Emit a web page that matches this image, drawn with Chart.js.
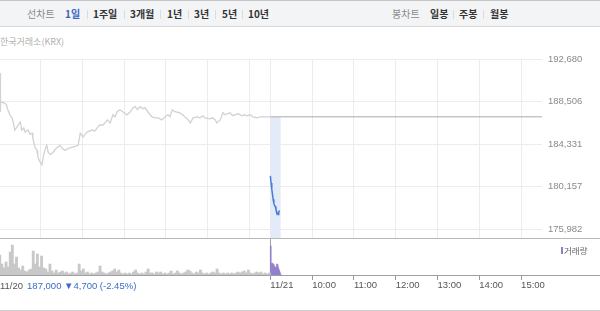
<html>
<head>
<script src="https://cdn.jsdelivr.net/npm/chart.js@4.4.0/dist/chart.umd.min.js"></script>
<style>
  html, body { margin: 0; width: 600px; height: 311px; overflow: hidden; background: #fff; }
  body { position: relative; font-family: "Noto Sans CJK KR", "Noto Sans", sans-serif; }
  .bar { position: absolute; left: 0; top: 0; width: 600px; height: 27px; box-sizing: border-box;
         background: #f3f4f6; border-top: 1px solid #c4c4c4; border-bottom: 1px solid #d8d8d8; }
  .bar span { position: absolute; top: 7px; font-size: 10px; line-height: 12px; font-weight: bold; color: #333; white-space: nowrap; }
  .bar span.lbl { font-weight: normal; color: #8a8a8a; }
  .bar span.on { color: #3d63c2; }
  .bar i { position: absolute; top: 9px; width: 1px; height: 9px; background: #dcdcdc; }
  .src { position: absolute; left: 0; top: 36px; font-size: 9px; line-height: 12px; color: #b0b0b0; }
  .hline { position: absolute; left: 0; width: 600px; height: 1px; }
  .cv { position: absolute; left: 0; }
  .legend { position: absolute; left: 564px; top: 244px; font-size: 8.5px; line-height: 12px; color: #666; }
  .legend b { position: absolute; left: -3px; top: 3px; width: 2px; height: 7px; background: #8f7dc8; }
  .foot { position: absolute; left: 0; top: 280px; font-family: "Liberation Sans", Arial, sans-serif; font-size: 9.5px; line-height: 12px; color: #555; white-space: nowrap; }
  .foot span { color: #3a6cc9; margin-left: 4px; }
</style>
</head>
<body>
  <div class="bar">
    <span class="lbl" style="left:27px">선차트</span>
    <span class="on" style="left:65px">1일</span><i style="left:87px"></i>
    <span style="left:93px">1주일</span><i style="left:124px"></i>
    <span style="left:130px">3개월</span><i style="left:160px"></i>
    <span style="left:167px">1년</span><i style="left:188px"></i>
    <span style="left:194px">3년</span><i style="left:215px"></i>
    <span style="left:222px">5년</span><i style="left:242px"></i>
    <span style="left:248px">10년</span>
    <span class="lbl" style="left:392px">봉차트</span>
    <span style="left:430px">일봉</span><i style="left:453px"></i>
    <span style="left:459px">주봉</span><i style="left:483px"></i>
    <span style="left:490px">월봉</span>
  </div>
  <div class="src">한국거래소(KRX)</div>

  <div class="cv" style="top:45px"><canvas id="price" width="600" height="193"></canvas></div>
  <div class="cv" style="top:238px"><canvas id="volume" width="600" height="73"></canvas></div>

  <div class="hline" style="top:238px; background:#b8b8b8"></div>
  <div class="hline" style="top:275px; background:#a0a0a0"></div>
  <div class="hline" style="top:310px; background:#d0d0d0"></div>

  <div class="legend"><b></b>거래량</div>
  <div class="foot">11/20<span>187,000 ▼4,700 (-2.45%)</span></div>

<script>
// 11/20 session: minutes after 09:00 and price
const prevMinutes = [0, 1, 2, 3, 6, 9, 11, 13, 16, 19, 21, 23, 26, 28, 31, 33, 36, 38, 42, 45, 48, 49,
  52, 55, 56, 59, 62, 64, 67, 69, 71, 74, 78, 81, 84, 88, 91, 95, 100, 105, 110, 114, 117,
  121, 124, 127, 134, 138, 141, 145, 150, 156, 160, 164, 167, 170, 174, 178, 184, 189, 193, 196, 199, 203, 207, 210, 214,
  220, 224, 229, 234, 239, 243, 246, 249, 253, 260, 264, 267, 272, 275, 279, 285, 289, 293, 296, 303, 307, 311, 313, 318,
  322, 325, 328, 332, 336, 339, 344, 349, 353, 356, 361, 365, 371, 375, 382, 390];
const prevPrices = [190200, 191300, 187500, 188500, 188400, 188300, 188200, 187700, 187200, 186900,
  186400, 185700, 186000, 186200, 186500, 185700, 185900, 185500, 185700, 185300, 185400, 184900,
  184000, 183700, 183100, 182600, 182300, 183100, 183900, 184200, 183500, 183300,
  183500, 183800, 184000, 184200, 183900, 183700, 183900, 184000, 184100, 184200, 185400,
  185000, 185300, 185500, 185700, 185600, 185900, 186200, 186200, 186700, 186400, 187200, 187000, 187500,
  187700, 187500, 187200, 187500, 187900, 188000, 187700, 188000, 187800, 187900, 187500,
  187000, 186900, 186900, 186700, 187000, 187200, 187000, 187700, 187500, 187400, 187200, 187000,
  186700, 186400, 186900, 187000, 186900, 187100, 186900, 186800, 186900, 186700, 186400, 186700,
  187400, 187200, 187300, 187400, 187100, 187200, 187300, 187100, 187200, 187100, 187200, 187000, 186900,
  187000, 187000, 187000];

// 11/21 session so far
const todayMinutes = [0, 1, 2, 3, 4, 5, 6, 7, 8, 9, 10, 11, 12, 13];
const todayPrices = [181200, 180500, 179900, 179400, 178900, 178500, 178300, 178200, 177900, 177700,
  177500, 177400, 177600, 177800];

const prevClose = 187000;
const nowMinute = 15;
const priceTicks = [192680, 188506, 184331, 180157, 175982];
const timeLabels = ['11/21', '10:00', '11:00', '12:00', '13:00', '14:00', '15:00'];
// grid lines, in hours from 11/21 09:00 (the 11/20 session sits to the left)
const gridHours = [-5.5, -4.5, -3.5, -2.5, -1.5, -0.5, 0, 1, 2, 3, 4, 5, 6];

// volume: 11/20 in 3-minute bins, 11/21 per minute
const prevVolumes = [21000, 12000, 8000, 14000, 9000, 24000, 31000, 12000, 19000, 8000,
  6000, 10000, 5000, 4000, 6000, 7000, 25000, 12000, 22000, 9000,
  20000, 8000, 7000, 4000, 12000, 5000, 3000, 6000, 3000, 4000,
  5000, 3000, 4000, 2000, 3000, 4000, 2000, 3000, 12000, 5000,
  7000, 3000, 4000, 2000, 3000, 2000, 3000, 4000, 10000, 4000,
  3000, 2000, 3000, 4000, 5000, 7000, 4000, 6000, 3000, 2000,
  3000, 2000, 3000, 2000, 4000, 6000, 3000, 2000, 3000, 2000,
  4000, 7000, 3000, 3000, 2000, 4000, 3000, 4000, 2000, 3000,
  2000, 3000, 5000, 2000, 3000, 5000, 3000, 2000, 3000, 4000,
  6000, 5000, 3000, 2000, 4000, 3000, 6000, 3000, 2000, 3000,
  2000, 3000, 4000, 3000, 7000, 3000, 2000, 3000, 2000, 3000,
  2000, 3000, 2000, 3000, 4000, 3000, 4000, 5000, 3000, 6000,
  3000, 2000, 3000, 4000, 3000, 4000, 2000, 3000, 2000, 3000];
const todayVolumes = [30000, 12000, 13000, 11000, 12000, 10000, 9000, 8000, 9000, 12000,
  11000, 8000, 6000, 4000, 2000];

const prevX = m => (m - 390) / 60;
const todayX = m => m / 60;

Chart.defaults.font.family = "'Liberation Sans', Arial, sans-serif";
Chart.defaults.animation = false;

new Chart(document.getElementById('price'), {
  type: 'line',
  data: {
    datasets: [
      {
        data: todayMinutes.map((m, i) => ({ x: todayX(m), y: todayPrices[i] })),
        borderColor: '#4a7bd3', borderWidth: 1.5, order: 0
      },
      {
        data: prevMinutes.map((m, i) => ({ x: prevX(m), y: prevPrices[i] })),
        borderColor: '#d2d2d2', borderWidth: 1.3, order: 1
      },
      {
        data: [{ x: 0, y: prevClose }, { x: 6.5, y: prevClose }],
        borderColor: '#ababab', borderWidth: 1, order: 2
      },
      {
        data: [{ x: 0, y: prevClose }, { x: todayX(nowMinute), y: prevClose }],
        borderWidth: 0, backgroundColor: '#e3ebf8', fill: 'start', order: 3
      }
    ]
  },
  options: {
    responsive: false,
    devicePixelRatio: 1,
    layout: { padding: { top: 14, left: 0, right: 0, bottom: 0 } },
    elements: { point: { radius: 0 }, line: { tension: 0 } },
    plugins: { legend: { display: false }, tooltip: { enabled: false } },
    scales: {
      x: {
        type: 'linear', min: -6.47, max: 6.5,
        ticks: { display: false },
        grid: { color: '#ececec', drawTicks: false },
        border: { display: false },
        afterBuildTicks: s => { s.ticks = gridHours.map(v => ({ value: v })); }
      },
      y: {
        position: 'right', min: 175099, max: 192680,
        ticks: {
          callback: v => v.toLocaleString('en-US'),
          color: '#8a8a8a', font: { size: 9.5 }, padding: 6
        },
        grid: { color: '#ececec', drawTicks: false },
        border: { display: false },
        afterBuildTicks: s => { s.ticks = priceTicks.map(v => ({ value: v })); },
        afterFit: s => { s.width = 58; s.paddingTop = 0; s.paddingBottom = 0; }
      }
    }
  }
});

new Chart(document.getElementById('volume'), {
  type: 'bar',
  data: {
    datasets: [
      {
        data: prevVolumes.map((v, i) => ({ x: prevX(i * 3 + 1.5), y: v })),
        backgroundColor: '#c8c8c8', barThickness: 2.2, grouped: false
      },
      {
        data: todayVolumes.map((v, i) => ({ x: todayX(i + 0.5), y: v })),
        backgroundColor: '#9481cc', barThickness: 1, grouped: false
      }
    ]
  },
  options: {
    responsive: false,
    devicePixelRatio: 1,
    layout: { padding: { top: 0, left: 0, right: 58, bottom: 19 } },
    plugins: { legend: { display: false }, tooltip: { enabled: false } },
    scales: {
      x: {
        type: 'linear', min: -6.47, max: 6.5, offset: false,
        ticks: {
          callback: (v, i) => timeLabels[i],
          align: 'start', maxRotation: 0, autoSkip: false, padding: 0,
          color: '#555', font: { size: 9.5 }
        },
        grid: {
          offset: false, drawOnChartArea: true, tickLength: 4, tickColor: '#999',
          color: c => (c.tick && c.tick.value === 0) ? '#a0a0a0' : 'rgba(0,0,0,0)'
        },
        border: { display: false },
        afterBuildTicks: s => { s.ticks = timeLabels.map((l, i) => ({ value: i })); },
        afterFit: s => { s.height = 16; s.paddingLeft = 0; s.paddingRight = 0; }
      },
      y: { display: false, min: 0, max: 38000 }
    }
  }
});
</script>
</body>
</html>
